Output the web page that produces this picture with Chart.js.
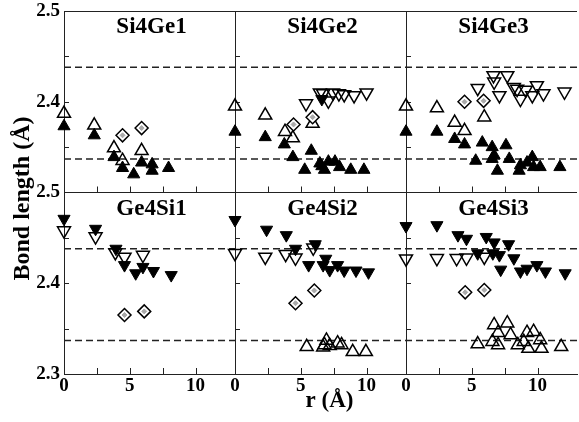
<!DOCTYPE html>
<html>
<head>
<meta charset="utf-8">
<title>Bond length vs r</title>
<script src="https://cdn.jsdelivr.net/npm/chart.js@4/dist/chart.umd.min.js"></script>
<style>
  html, body { margin: 0; padding: 0; background: #fff; overflow: hidden; }
  #wrap { width: 586px; height: 422px; }
</style>
</head>
<body>
<div id="wrap"><canvas id="bondChart" width="586" height="422"></canvas></div>
<script>
// ---- axes / labels ----
const panelTitles = ['Si4Ge1', 'Si4Ge2', 'Si4Ge3', 'Ge4Si1', 'Ge4Si2', 'Ge4Si3'];
const xLabelValues = [0, 5, 10];
const yLabelValues = [2.3, 2.4, 2.5];
const refLines = [2.438, 2.337];
const rMin = 0, rMax = 13;
const bondMin = 2.3, bondMax = 2.5;

// ---- data: [r (Å), bond length (Å)] ----
// Si4Ge1
const si4ge1FilledUp = [[0, 2.373], [2.3, 2.363], [3.8, 2.339], [4.45, 2.327], [5.3, 2.320], [5.9, 2.333], [6.7, 2.331], [6.7, 2.324], [7.95, 2.327]];
const si4ge1OpenUp = [[0, 2.387], [2.3, 2.374], [3.8, 2.349], [4.45, 2.335], [5.9, 2.346]];
const si4ge1Diamond = [[4.45, 2.363], [5.9, 2.371]];
// Si4Ge2
const si4ge2FilledUp = [[0, 2.367], [2.3, 2.361], [3.75, 2.353], [4.4, 2.339], [5.8, 2.346], [5.3, 2.325], [6.45, 2.332], [6.6, 2.329], [6.8, 2.325], [7.1, 2.334], [7.6, 2.334], [7.95, 2.328], [8.8, 2.325], [9.8, 2.325]];
const si4ge2OpenUp = [[0, 2.395], [2.3, 2.385], [3.8, 2.367], [4.4, 2.360], [5.9, 2.376]];
const si4ge2OpenDown = [[5.4, 2.398], [6.45, 2.410], [6.7, 2.409], [7.1, 2.401], [7.45, 2.410], [7.9, 2.409], [8.3, 2.408], [9.05, 2.407], [10.0, 2.410]];
const si4ge2FilledDown = [[6.6, 2.403]];
const si4ge2Diamond = [[4.45, 2.375], [5.9, 2.383]];
// Si4Ge3
const si4ge3FilledUp = [[0, 2.367], [2.35, 2.367], [3.7, 2.359], [4.45, 2.353], [5.8, 2.355], [5.3, 2.335], [6.55, 2.350], [6.55, 2.337], [6.7, 2.341], [6.95, 2.324], [7.6, 2.352], [7.85, 2.337], [8.7, 2.330], [8.6, 2.324], [9.2, 2.333], [9.6, 2.339], [9.7, 2.328], [10.2, 2.328], [11.7, 2.328]];
const si4ge3OpenUp = [[0, 2.395], [2.35, 2.393], [3.7, 2.377], [4.45, 2.368], [5.95, 2.383]];
const si4ge3OpenDown = [[5.45, 2.415], [6.65, 2.429], [6.7, 2.422], [7.1, 2.407], [7.7, 2.429], [8.2, 2.416], [8.45, 2.414], [8.7, 2.403], [9.1, 2.413], [9.6, 2.407], [9.95, 2.418], [10.45, 2.409], [12.05, 2.411]];
const si4ge3Diamond = [[4.45, 2.400], [5.9, 2.401]];
// Ge4Si1
const ge4si1FilledDown = [[0, 2.471], [2.4, 2.460], [3.95, 2.438], [4.6, 2.420], [5.45, 2.411], [6.0, 2.418], [6.8, 2.4135], [8.15, 2.409]];
const ge4si1OpenDown = [[0, 2.458], [2.4, 2.4515], [3.9, 2.434], [4.6, 2.429], [6.0, 2.431]];
const ge4si1Diamond = [[4.6, 2.365], [6.1, 2.369]];
// Ge4Si2
const ge4si2FilledDown = [[0, 2.4697], [2.4, 2.459], [3.9, 2.453], [4.6, 2.438], [6.1, 2.443], [5.6, 2.420], [6.9, 2.427], [6.7, 2.420], [7.2, 2.4145], [7.8, 2.420], [8.3, 2.414], [9.2, 2.414], [10.15, 2.412]];
const ge4si2OpenDown = [[0, 2.433], [2.3, 2.429], [3.85, 2.432], [4.6, 2.428], [5.95, 2.439]];
const ge4si2OpenUp = [[5.45, 2.330], [6.7, 2.3295], [6.95, 2.337], [6.8, 2.332], [7.2, 2.331], [7.8, 2.334], [8.1, 2.332], [8.95, 2.3245], [9.95, 2.3245]];
const ge4si2Diamond = [[4.6, 2.378], [6.03, 2.392]];
// Ge4Si3
const ge4si3FilledDown = [[0, 2.463], [2.35, 2.464], [3.95, 2.453], [4.6, 2.449], [6.1, 2.451], [6.7, 2.445], [7.8, 2.443], [5.45, 2.433], [6.6, 2.433], [7.1, 2.431], [8.2, 2.4275], [7.2, 2.415], [8.7, 2.413], [9.2, 2.416], [9.95, 2.420], [10.6, 2.413], [12.1, 2.411]];
const ge4si3OpenDown = [[0, 2.427], [2.35, 2.4275], [3.85, 2.4275], [4.6, 2.428], [5.95, 2.429]];
const ge4si3OpenUp = [[5.45, 2.333], [6.7, 2.354], [6.57, 2.3356], [7.0, 2.3455], [7.0, 2.332], [7.7, 2.356], [7.95, 2.343], [8.5, 2.332], [9.2, 2.3455], [9.7, 2.3466], [8.95, 2.3356], [9.3, 2.328], [10.2, 2.3375], [10.3, 2.328], [11.8, 2.330]];
const ge4si3Diamond = [[4.5, 2.390], [5.95, 2.3926]];

// ---- look ----
const axisColor = '#222';
const serif = "'Liberation Serif', 'Times New Roman', serif";
const tickFont = { family: serif, size: 19, weight: 'bold' };

const markerStyles = {
  filledUp:    { shape: 'triangle', rotation: 0,   radius: 7,   fill: '#000', line: '#000', width: 1,   order: 4 },
  filledDown:  { shape: 'triangle', rotation: 180, radius: 7,   fill: '#000', line: '#000', width: 1,   order: 4 },
  openUp:      { shape: 'triangle', rotation: 0,   radius: 7.5, fill: 'rgba(0,0,0,0)', line: '#000', width: 1.5, order: 3 },
  openDown:    { shape: 'triangle', rotation: 180, radius: 7.5, fill: 'rgba(0,0,0,0)', line: '#000', width: 1.5, order: 3 },
  diamond:     { shape: 'rectRot',  rotation: 0,   radius: 6.5, fill: '#fff', line: '#000', width: 1.5, order: 2 },
  diamondCore: { shape: 'rectRot',  rotation: 0,   radius: 2.5, fill: '#aaa', line: '#aaa', width: 1,   order: 1 }
};

// panels: which series go on which pair of axes
const panels = [
  { x: 'x1', y: 'yTop', series: [[si4ge1FilledUp, 'filledUp'], [si4ge1OpenUp, 'openUp'], [si4ge1Diamond, 'diamond']] },
  { x: 'x2', y: 'yTop', series: [[si4ge2FilledUp, 'filledUp'], [si4ge2FilledDown, 'filledDown'], [si4ge2OpenUp, 'openUp'], [si4ge2OpenDown, 'openDown'], [si4ge2Diamond, 'diamond']] },
  { x: 'x3', y: 'yTop', series: [[si4ge3FilledUp, 'filledUp'], [si4ge3OpenUp, 'openUp'], [si4ge3OpenDown, 'openDown'], [si4ge3Diamond, 'diamond']] },
  { x: 'x1', y: 'yBot', series: [[ge4si1FilledDown, 'filledDown'], [ge4si1OpenDown, 'openDown'], [ge4si1Diamond, 'diamond']] },
  { x: 'x2', y: 'yBot', series: [[ge4si2FilledDown, 'filledDown'], [ge4si2OpenDown, 'openDown'], [ge4si2OpenUp, 'openUp'], [ge4si2Diamond, 'diamond']] },
  { x: 'x3', y: 'yBot', series: [[ge4si3FilledDown, 'filledDown'], [ge4si3OpenDown, 'openDown'], [ge4si3OpenUp, 'openUp'], [ge4si3Diamond, 'diamond']] }
];

function makeDataset(points, kind, xAxisID, yAxisID) {
  const s = markerStyles[kind];
  return {
    data: points.map(p => ({ x: p[0], y: p[1] })),
    xAxisID: xAxisID,
    yAxisID: yAxisID,
    showLine: false,
    clip: false,
    order: s.order,
    pointStyle: s.shape,
    pointRotation: s.rotation,
    pointRadius: s.radius,
    pointHoverRadius: s.radius,
    pointBackgroundColor: s.fill,
    pointBorderColor: s.line,
    pointBorderWidth: s.width
  };
}

const datasets = [];
panels.forEach(p => {
  p.series.forEach(([pts, kind]) => {
    datasets.push(makeDataset(pts, kind, p.x, p.y));
    if (kind === 'diamond') datasets.push(makeDataset(pts, 'diamondCore', p.x, p.y));
  });
});

const near = (a, b) => Math.abs(a - b) < 1e-6;

function colScale() {
  return {
    type: 'linear',
    position: 'bottom',
    stack: 'r',
    stackWeight: 1,
    min: rMin,
    max: rMax,
    afterFit: s => { s.height = 48; s.paddingLeft = 0; s.paddingRight = 0; },
    border: { display: true, color: axisColor, width: 1 },
    grid: {
      drawTicks: false,
      lineWidth: 1,
      color: c => (c.tick && near(c.tick.value, rMin)) ? axisColor : 'rgba(0,0,0,0)'
    },
    ticks: {
      stepSize: 2.5,
      padding: 1,
      autoSkip: false,
      maxRotation: 0,
      minRotation: 0,
      color: '#000',
      font: tickFont,
      callback: v => xLabelValues.some(t => near(t, v)) ? String(v) : ''
    }
  };
}

function rowScale(hideBottomLabel) {
  return {
    type: 'linear',
    position: 'left',
    stack: 'bond',
    stackWeight: 1,
    min: bondMin,
    max: bondMax,
    afterFit: s => { s.width = 64; s.paddingTop = 0; s.paddingBottom = 0; },
    border: { display: true, color: axisColor, width: 1 },
    grid: {
      drawTicks: false,
      lineWidth: 1,
      color: c => (c.tick && near(c.tick.value, bondMax)) ? axisColor : 'rgba(0,0,0,0)'
    },
    ticks: {
      stepSize: 0.05,
      padding: 4,
      autoSkip: false,
      color: '#000',
      font: tickFont,
      callback: v => {
        if (hideBottomLabel && near(v, bondMin)) return '';
        return yLabelValues.some(t => near(t, v)) ? v.toFixed(1) : '';
      }
    }
  };
}

const colAxes = ['x1', 'x2', 'x3'];
const rowAxes = ['yTop', 'yBot'];

// dashed reference lines, inward tick marks, panel titles, axis titles
const panelDecor = {
  id: 'panelDecor',
  beforeDatasetsDraw(chart) {
    const ctx = chart.ctx;
    const area = chart.chartArea;
    ctx.save();
    ctx.strokeStyle = axisColor;

    ctx.lineWidth = 1.5;
    ctx.setLineDash([7, 4]);
    rowAxes.forEach(id => {
      const ys = chart.scales[id];
      refLines.forEach(v => {
        const y = ys.getPixelForValue(v);
        ctx.beginPath();
        ctx.moveTo(area.left, y);
        ctx.lineTo(area.right, y);
        ctx.stroke();
      });
    });
    ctx.setLineDash([]);

    ctx.lineWidth = 1;
    colAxes.forEach(xid => {
      const xs = chart.scales[xid];
      const x0 = xs.getPixelForValue(rMin);
      rowAxes.forEach(yid => {
        const ys = chart.scales[yid];
        ys.ticks.forEach(t => {
          if (t.value <= ys.min + 1e-6 || t.value >= ys.max - 1e-6) return;
          const y = Math.round(ys.getPixelForValue(t.value)) + 0.5;
          ctx.beginPath();
          ctx.moveTo(x0, y);
          ctx.lineTo(x0 + 5, y);
          ctx.stroke();
        });
        xs.ticks.forEach(t => {
          if (t.value <= xs.min + 1e-6 || t.value >= xs.max - 1e-6) return;
          const x = Math.round(xs.getPixelForValue(t.value)) + 0.5;
          ctx.beginPath();
          ctx.moveTo(x, ys.bottom);
          ctx.lineTo(x, ys.bottom - 6);
          ctx.stroke();
        });
      });
    });
    ctx.restore();
  },
  afterDraw(chart) {
    const ctx = chart.ctx;
    const area = chart.chartArea;
    ctx.save();
    ctx.fillStyle = '#000';
    ctx.textAlign = 'center';
    ctx.textBaseline = 'alphabetic';
    ctx.font = `bold 23px ${serif}`;
    panelTitles.forEach((title, i) => {
      const xs = chart.scales[colAxes[i % 3]];
      const ys = chart.scales[rowAxes[Math.floor(i / 3)]];
      ctx.fillText(title, (xs.left + xs.right) / 2 + 2, ys.top + 22);
    });

    ctx.font = `bold 23px ${serif}`;
    ctx.textBaseline = 'middle';
    const mid = chart.scales.x2;
    ctx.fillText('r (Å)', (mid.left + mid.right) / 2 + 9, area.bottom + 27);

    ctx.translate(23, (area.top + area.bottom) / 2 + 6);
    ctx.rotate(-Math.PI / 2);
    ctx.font = `bold 24px ${serif}`;
    ctx.fillText('Bond length (Å)', 0, 0);
    ctx.restore();
  }
};

new Chart(document.getElementById('bondChart'), {
  type: 'scatter',
  data: { datasets: datasets },
  options: {
    responsive: false,
    animation: false,
    devicePixelRatio: 1,
    layout: { padding: { top: 11, right: 2, left: 0, bottom: 0 } },
    plugins: {
      legend: { display: false },
      tooltip: { enabled: false }
    },
    scales: {
      x1: colScale(),
      x2: colScale(),
      x3: colScale(),
      yBot: rowScale(false),
      yTop: rowScale(true)
    }
  },
  plugins: [panelDecor]
});
</script>
</body>
</html>
